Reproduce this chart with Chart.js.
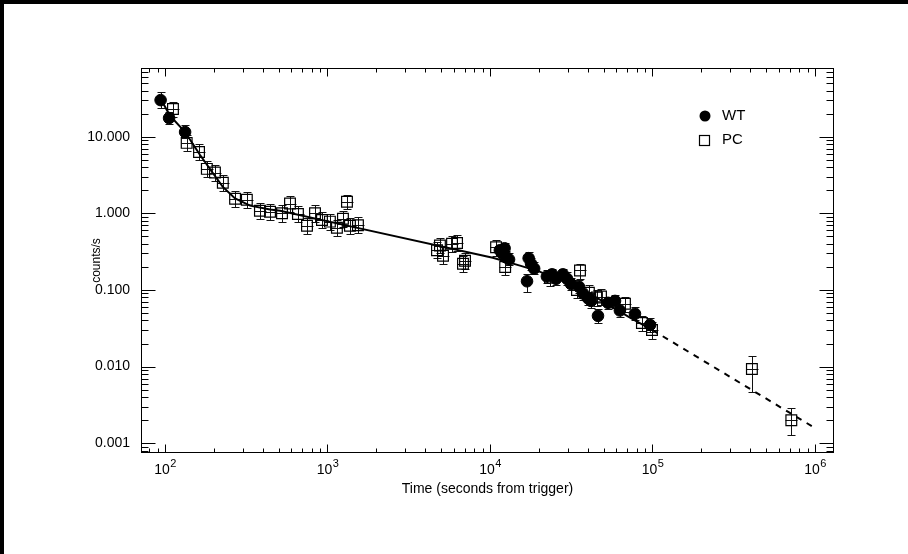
<!DOCTYPE html>
<html><head><meta charset="utf-8">
<script src="https://cdn.jsdelivr.net/npm/chart.js@4.4.1/dist/chart.umd.min.js"></script>
<style>
html,body{margin:0;padding:0;background:#fff;}
#wrap{position:absolute;left:0;top:0;width:908px;height:554px;box-sizing:border-box;border-top:4px solid #000;border-left:4px solid #000;background:#fff;}
canvas{display:block;}
</style></head><body>
<div id="wrap"><canvas id="c" width="904" height="550"></canvas></div>
<script>
// ---- data ----
const wtTime = [94,106,133,11500,11900,12300,12600,13100,16900,17300,17900,18700,22400,24100,25500,28100,29800,31500,35300,37400,40100,41900,46200,53300,58800,63000,78000,96600];
const wtRate = [30,17.5,11.5,0.33,0.30,0.35,0.27,0.25,0.13,0.26,0.22,0.19,0.15,0.16,0.14,0.16,0.14,0.12,0.11,0.09,0.078,0.072,0.046,0.068,0.072,0.054,0.049,0.035];
const wtHigh = [38,21,14,0.39,0.36,0.41,0.32,0.30,0.16,0.31,0.26,0.23,0.18,0.19,0.17,0.19,0.17,0.145,0.135,0.11,0.095,0.088,0.056,0.082,0.087,0.066,0.06,0.043];
const wtLow  = [24,14.5,9.5,0.28,0.25,0.30,0.23,0.21,0.095,0.22,0.185,0.16,0.125,0.135,0.115,0.135,0.115,0.1,0.09,0.074,0.064,0.059,0.037,0.056,0.059,0.044,0.04,0.028];

const pcTime = [112,136,162,181,203,227,270,319,384,443,525,588,658,748,838,925,1035,1143,1245,1318,1375,1540,4720,4920,5140,5840,6270,6820,7020,10900,12400,23400,34300,35800,40600,45500,48200,67700,86100,99300,409000,715000];
const pcRate = [23,8.3,6.3,3.8,3.4,2.5,1.55,1.5,1.08,1.05,1.0,1.34,0.98,0.69,1.0,0.82,0.78,0.65,0.85,1.42,0.69,0.70,0.33,0.38,0.28,0.40,0.41,0.22,0.24,0.36,0.20,0.145,0.10,0.18,0.092,0.08,0.082,0.066,0.037,0.030,0.0093,0.002];
const pcHigh = [28,10.5,8,4.8,4.3,3.2,1.95,1.9,1.37,1.33,1.27,1.7,1.24,0.88,1.27,1.04,0.99,0.83,1.08,1.74,0.88,0.89,0.42,0.48,0.36,0.5,0.52,0.28,0.3,0.45,0.25,0.18,0.125,0.22,0.115,0.1,0.102,0.082,0.046,0.038,0.0138,0.0029];
const pcLow  = [18,6.5,4.9,3.0,2.65,1.95,1.2,1.17,0.84,0.82,0.78,1.05,0.76,0.54,0.78,0.64,0.61,0.51,0.66,1.15,0.54,0.55,0.26,0.3,0.22,0.31,0.32,0.17,0.19,0.28,0.155,0.113,0.078,0.14,0.072,0.062,0.064,0.051,0.029,0.023,0.0047,0.0013];

const modelTime = [92,95,107,133,164,195,227,270,334,443,511,1143,10400,15300,20000,30000,45000,72700,100000,1000000];
const modelRate = [32,30,19,11.5,5.8,3.46,2.21,1.56,1.26,1.12,1.08,0.74,0.264,0.208,0.175,0.125,0.08,0.0435,0.03,0.00158];

const xTickExp = [2,3,4,5,6];
const yTickLabels = ['0.001','0.010','0.100','1.000','10.000'];
const seriesNames = ['WT','PC'];
const xTitle = 'Time (seconds from trigger)';
const yTitle = 'counts/s';

// ---- rendering ----
const FONT = "'Liberation Sans', Arial, Helvetica, sans-serif";
const pts = (xs, ys) => xs.map((t, i) => ({x: t, y: ys[i]}));
const isPow10 = v => { const e = Math.log10(v); return Math.abs(e - Math.round(e)) < 1e-6; };

const errorBars = {
  id: 'errorBars',
  beforeDatasetsDraw(chart) {
    const {ctx, scales: {x, y}} = chart;
    ctx.save();
    ctx.strokeStyle = '#111';
    ctx.lineWidth = 1;
    chart.data.datasets.forEach(ds => {
      if (!ds.errLo) return;
      ds.data.forEach((p, i) => {
        const px = Math.round(x.getPixelForValue(p.x)) + 0.5;
        const py = Math.round(y.getPixelForValue(p.y)) + 0.5;
        const yl = Math.round(y.getPixelForValue(ds.errLo[i])) + 0.5;
        const yh = Math.round(y.getPixelForValue(ds.errHi[i])) + 0.5;
        ctx.beginPath();
        ctx.moveTo(px, yl); ctx.lineTo(px, yh);
        ctx.moveTo(px - 4, yl); ctx.lineTo(px + 4, yl);
        ctx.moveTo(px - 4, yh); ctx.lineTo(px + 4, yh);
        if (ds.hBar) { ctx.moveTo(px - 6, py); ctx.lineTo(px + 6, py); }
        ctx.stroke();
      });
    });
    ctx.restore();
  }
};

const frame = {
  id: 'frame',
  afterDraw(chart) {
    const {ctx, chartArea: a, scales: {x, y}} = chart;
    ctx.save();
    ctx.strokeStyle = '#000';
    ctx.lineWidth = 1;
    const L = Math.round(a.left) + 0.5, R = Math.round(a.right) - 0.5;
    const T = Math.round(a.top) + 0.5, B = Math.round(a.bottom) - 0.5;
    ctx.strokeRect(L, T, R - L, B - T);
    ctx.beginPath();
    for (let e = 1; e <= 6; e++) {
      for (let d = 1; d <= 9; d++) {
        const v = d * Math.pow(10, e);
        if (v < x.min || v > x.max) continue;
        const px = Math.round(x.getPixelForValue(v)) + 0.5;
        const len = d === 1 ? 8 : 4;
        ctx.moveTo(px, B); ctx.lineTo(px, B - len);
        ctx.moveTo(px, T); ctx.lineTo(px, T + len);
      }
    }
    for (let e = -4; e <= 1; e++) {
      for (let d = 1; d <= 9; d++) {
        const v = d * Math.pow(10, e);
        if (v < y.min || v > y.max) continue;
        const py = Math.round(y.getPixelForValue(v)) + 0.5;
        const len = d === 1 ? 14 : 7;
        ctx.moveTo(L, py); ctx.lineTo(L + len, py);
        ctx.moveTo(R, py); ctx.lineTo(R - len, py);
      }
    }
    ctx.stroke();
    // x tick labels: 10 with raised exponent
    ctx.fillStyle = '#000';
    ctx.textBaseline = 'alphabetic';
    ctx.textAlign = 'left';
    xTickExp.forEach(e => {
      const px = x.getPixelForValue(Math.pow(10, e));
      ctx.font = '14px ' + FONT;
      const wb = ctx.measureText('10').width;
      ctx.font = '11px ' + FONT;
      const we = ctx.measureText(String(e)).width;
      const x0 = px - (wb + we) / 2;
      ctx.font = '14px ' + FONT;
      ctx.fillText('10', x0, a.bottom + 21);
      ctx.font = '11px ' + FONT;
      ctx.fillText(String(e), x0 + wb + 0.5, a.bottom + 14);
    });
    ctx.restore();
  }
};

const legendBox = {
  id: 'legendBox',
  afterDraw(chart) {
    const {ctx} = chart;
    ctx.save();
    ctx.fillStyle = '#000';
    ctx.strokeStyle = '#000';
    ctx.lineWidth = 1.2;
    ctx.beginPath(); ctx.arc(701, 112, 5.5, 0, Math.PI * 2); ctx.fill();
    ctx.strokeRect(695.5, 131.5, 10, 10);
    ctx.font = '15px ' + FONT;
    ctx.textBaseline = 'middle';
    ctx.fillText(seriesNames[0], 718, 112);
    ctx.fillText(seriesNames[1], 718, 136);
    ctx.restore();
  }
};

new Chart(document.getElementById('c'), {
  type: 'scatter',
  data: {
    datasets: [
      {label: seriesNames[0], data: pts(wtTime, wtRate), errLo: wtLow, errHi: wtHigh,
       pointStyle: 'circle', pointRadius: 5.8, backgroundColor: '#000', borderColor: '#000', borderWidth: 1},
      {label: seriesNames[1], data: pts(pcTime, pcRate), errLo: pcLow, errHi: pcHigh, hBar: true,
       pointStyle: 'rect', pointRadius: 7.6, backgroundColor: 'rgba(0,0,0,0)', borderColor: '#000', borderWidth: 1.2},
      {label: 'model', type: 'line', data: pts(modelTime, modelRate), borderColor: '#000', borderWidth: 2,
       pointRadius: 0, tension: 0, fill: false,
       segment: {borderDash: c => c.p0.parsed.x >= 99000 ? [6, 6] : undefined}}
    ]
  },
  options: {
    responsive: false, animation: false, events: [],
    layout: {padding: {left: 0, right: 74, top: 64, bottom: 0}},
    plugins: {legend: {display: false}, tooltip: {enabled: false}},
    scales: {
      x: {
        type: 'logarithmic', position: 'bottom', min: 71.2, max: 1.309e6,
        grid: {display: false}, border: {display: false},
        ticks: {display: false, autoSkip: false},
        title: {display: true, text: xTitle, color: '#000', font: {family: FONT, size: 14}, padding: {top: 0, bottom: 56}},
        afterFit: s => { s.height = 101; }
      },
      y: {
        type: 'logarithmic', position: 'left', min: 7.47e-4, max: 78.7,
        grid: {display: false}, border: {display: false},
        ticks: {autoSkip: false, padding: 3, color: '#000', font: {family: FONT, size: 14},
                callback: v => { if (!isPow10(v)) return ''; const e = Math.round(Math.log10(v)); return yTickLabels[e + 3] || ''; }},
        title: {display: true, text: yTitle, color: '#000', font: {family: FONT, size: 12}, padding: {top: 85, bottom: 0}},
        afterFit: s => { s.width = 137; }
      }
    }
  },
  plugins: [errorBars, frame, legendBox]
});
</script>
</body></html>
